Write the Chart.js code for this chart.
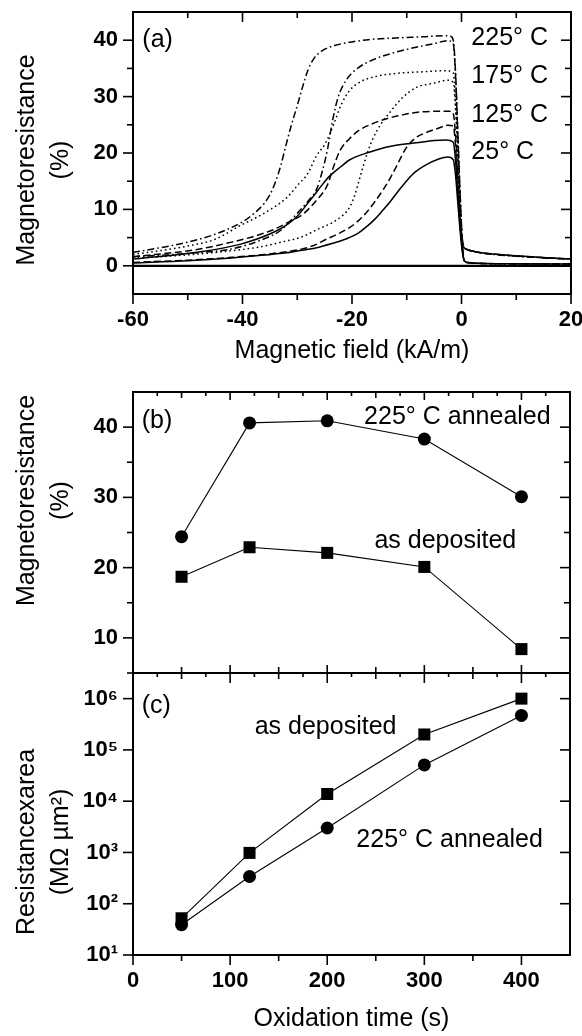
<!DOCTYPE html>
<html lang="en">
<head>
<meta charset="UTF-8">
<title>Magnetoresistance and resistance-area vs oxidation</title>
<script src="https://cdn.jsdelivr.net/npm/chart.js"></script>
<style>
  body { margin: 0; background: #fff; }
  #wrap { position: relative; width: 582px; height: 1036px; }
  canvas { position: absolute; left: 0; }
</style>
</head>
<body>
<div id="wrap">
  <canvas id="cA" width="582" height="372" style="top:0"></canvas>
  <canvas id="cB" width="582" height="310" style="top:372px"></canvas>
  <canvas id="cC" width="582" height="376" style="top:660px"></canvas>
</div>
<script>
// ---- panel (a): MR loops vs field, one pair of branches per anneal temperature ----
var h225Up  = [-60, -55, -50, -45, -40, -38, -36, -35, -34, -33, -32, -31, -30, -29, -28, -27, -25.5, -23, -20, -17, -12, -7, -3, -2, -1.5, -1.1, -0.7, -0.3, 0.1, 0.5, 1, 3, 6, 10, 15, 20];
var mr225Up = [2.4, 3.2, 4.2, 5.6, 7.8, 9.2, 11.1, 12.6, 14.8, 17.8, 21.6, 25.2, 28.4, 31.8, 34.8, 36.7, 38.1, 39.1, 39.7, 40.1, 40.4, 40.6, 40.8, 40.7, 40.0, 34.5, 24.5, 14, 5.5, 3.3, 2.9, 2.4, 2.0, 1.7, 1.4, 1.2];
var h225Lo  = [-60, -50, -42, -36, -33, -30, -28, -26.5, -25.5, -24.5, -23.5, -22.5, -21, -19, -16, -13, -9, -5, -2.5, -1.5, -1.1, -0.7, -0.3, 0.1, 0.5, 1, 3, 8, 20];
var mr225Lo = [1.6, 2.2, 3.0, 4.8, 6.3, 9.3, 11.5, 13.5, 16.5, 20.5, 26, 30, 33, 35, 36.6, 37.6, 38.6, 39.4, 39.9, 39.3, 34, 24, 14, 5.3, 0.9, 0.6, 0.45, 0.35, 0.3];

var h175Up  = [-60, -50, -45, -40.5, -37, -34.4, -32, -30, -28, -26.5, -25, -24, -23, -22, -20.5, -18.5, -16, -12, -7, -3, -1.5, -1.1, -0.7, -0.3, 0.1, 0.5, 1, 3, 8, 14, 20];
var mr175Up = [2.0, 3.5, 4.7, 7.1, 8.8, 10.3, 12, 14.2, 16.5, 19.5, 21.5, 23.5, 26, 28.5, 31, 32.6, 33.5, 34.1, 34.4, 34.6, 34.2, 29.5, 21, 12, 4.8, 3.2, 2.9, 2.4, 1.9, 1.5, 1.2];
var h175Lo  = [-60, -48, -40, -36, -32, -29.5, -26, -23.5, -22, -21, -20.2, -19.5, -18.8, -18, -17.2, -16.2, -14.8, -13, -11, -8.3, -5, -2.5, -1.5, -1.1, -0.7, -0.3, 0.1, 0.5, 1, 3, 8, 20];
var mr175Lo = [1.3, 2.1, 2.9, 3.5, 4.4, 5.0, 6.6, 7.7, 8.7, 9.6, 10.8, 12.5, 14.8, 17.5, 20, 22.5, 25, 27.3, 29.6, 31.6, 32.4, 32.9, 32.5, 28, 20, 11.5, 4.5, 0.9, 0.6, 0.45, 0.35, 0.3];

var h125Up  = [-60, -48.3, -42, -38, -34.4, -31.5, -28.9, -26.5, -24.5, -23.5, -22.2, -20.5, -18.6, -16.5, -14.3, -11, -8.3, -4, -2, -1.5, -1.1, -0.7, -0.3, 0.1, 0.5, 1, 3, 8, 14, 20];
var mr125Up = [1.6, 2.9, 4.2, 5.2, 6.4, 7.8, 9.2, 11.6, 14.3, 17.2, 20.4, 22.5, 24.1, 25.1, 25.9, 26.7, 27.2, 27.4, 27.4, 27.0, 23.3, 16.5, 9.5, 4.2, 3.2, 2.9, 2.4, 1.9, 1.5, 1.2];
var h125Lo  = [-60, -50, -42, -36, -32, -29.5, -27, -24.7, -22.5, -20.4, -18.8, -17.4, -15.8, -14.3, -13, -11.9, -10.1, -8.5, -6.5, -4.5, -2.5, -1.5, -1.1, -0.7, -0.3, 0.1, 0.5, 1, 3, 8, 20];
var mr125Lo = [0.6, 1.0, 1.5, 2.0, 2.5, 2.9, 3.6, 4.7, 5.7, 6.8, 8.0, 9.4, 11.4, 13.5, 15.6, 17.6, 20.9, 22.6, 23.6, 24.3, 24.9, 24.8, 21.4, 15.2, 8.7, 3.4, 0.9, 0.6, 0.45, 0.35, 0.3];

var h25Up   = [-60, -48.3, -40.5, -34.4, -32, -30, -28.3, -27, -25.5, -24.1, -22, -20.4, -17, -14.3, -11, -8.3, -5, -2.8, -1.5, -1.1, -0.7, -0.3, 0.1, 0.5, 1, 3, 8, 14, 20];
var mr25Up  = [1.2, 2.4, 3.8, 5.9, 7.2, 8.8, 10.8, 12.4, 14.3, 15.9, 17.6, 18.8, 20.1, 20.9, 21.5, 21.8, 22.2, 22.3, 21.9, 18.8, 13.3, 7.8, 3.8, 3.2, 2.9, 2.4, 1.9, 1.5, 1.2];
var h25Lo   = [-60, -50, -42, -36, -32, -29.5, -26, -23.5, -21, -19, -17.5, -16, -14.5, -13, -11.5, -10, -8.5, -6.5, -4.5, -2.5, -1.5, -1.1, -0.7, -0.3, 0.1, 0.5, 1, 3, 8, 20];
var mr25Lo  = [0.5, 0.9, 1.4, 1.9, 2.3, 2.7, 3.3, 4.0, 4.8, 5.7, 6.8, 8.1, 9.7, 11.4, 13.3, 15.1, 16.6, 17.9, 18.8, 19.3, 18.8, 16.2, 11.5, 6.7, 2.8, 0.9, 0.6, 0.45, 0.35, 0.3];

var fieldTicks = [-60, -40, -20, 0, 20];
var fieldMinor = [-50, -30, -10, 10];
var mrTicksA = [0, 10, 20, 30, 40];
var mrMinorA = [5, 15, 25, 35];

// ---- panels (b) and (c): vs oxidation time ----
var oxTime = [50, 120, 200, 300, 400];
var mrAnnealed  = [24.4, 40.6, 40.9, 38.3, 30.1];
var mrDeposited = [18.7, 22.9, 22.1, 20.1, 8.4];
var raDeposited = [52, 980, 13800, 200000, 1000000];
var raAnnealed  = [39, 340, 3000, 51000, 470000];

var timeTicks = [0, 100, 200, 300, 400];
var timeMinor = [50, 150, 250, 350];
var timeFine = [25, 75, 125, 175, 225, 275, 325, 375, 425];
var mrTicksB = [10, 20, 30, 40];
var mrMinorB = [5, 15, 25, 35];
var raTicks = [1e1, 1e2, 1e3, 1e4, 1e5, 1e6];
var sup = {1: '¹', 2: '²', 3: '³', 4: '⁴', 5: '⁵', 6: '⁶'};

var FAM = "'Liberation Sans', Arial, sans-serif";
Chart.defaults.font.family = FAM;
Chart.defaults.color = '#000';
var tickFont = {size: 22, weight: 'bold'};
var titleFont = {size: 25};

function pts(xs, ys) {
  return xs.map(function (v, i) { return {x: v, y: ys[i]}; });
}

// box + inward/outward tick marks
var frame = {
  id: 'frame',
  afterDatasetsDraw: function (chart, args, o) {
    var ctx = chart.ctx, a = chart.chartArea, sx = chart.scales.x, sy = chart.scales.y;
    ctx.save();
    ctx.strokeStyle = '#000';
    ctx.lineWidth = 1.6;
    function line(x1, y1, x2, y2) { ctx.beginPath(); ctx.moveTo(x1, y1); ctx.lineTo(x2, y2); ctx.stroke(); }
    (o.x || []).forEach(function (g) {
      g[0].forEach(function (v) {
        var p = sx.getPixelForValue(v);
        if (g[2].indexOf('bo') >= 0) line(p, a.bottom, p, a.bottom + g[1]);
        if (g[2].indexOf('bi') >= 0) line(p, a.bottom, p, a.bottom - g[1]);
        if (g[2].indexOf('ti') >= 0) line(p, a.top, p, a.top + g[1]);
      });
    });
    (o.y || []).forEach(function (g) {
      g[0].forEach(function (v) {
        var p = sy.getPixelForValue(v);
        if (g[2].indexOf('lo') >= 0) line(a.left, p, a.left - g[1], p);
        if (g[2].indexOf('ri') >= 0) line(a.right, p, a.right - g[1], p);
      });
    });
    ctx.lineWidth = 2;
    ctx.strokeRect(a.left, a.top, a.right - a.left, a.bottom - a.top);
    ctx.restore();
  }
};

// text labels placed at data coordinates
var notes = {
  id: 'notes',
  afterDraw: function (chart, args, o) {
    var ctx = chart.ctx, sx = chart.scales.x, sy = chart.scales.y;
    ctx.save();
    ctx.fillStyle = '#000';
    ctx.font = '25px ' + FAM;
    ctx.textAlign = 'left';
    ctx.textBaseline = 'middle';
    (o.items || []).forEach(function (n) {
      ctx.fillText(n.t, sx.getPixelForValue(n.x), sy.getPixelForValue(n.y));
    });
    ctx.restore();
  }
};

// two-line rotated y title
var ytitle = {
  id: 'ytitle',
  afterDraw: function (chart, args, o) {
    var ctx = chart.ctx, a = chart.chartArea;
    var cy = (a.top + a.bottom) / 2 + o.dy;
    ctx.save();
    ctx.fillStyle = '#000';
    ctx.font = '25px ' + FAM;
    ctx.textAlign = 'center';
    ctx.textBaseline = 'middle';
    o.lines.forEach(function (t, i) {
      ctx.save();
      ctx.translate(o.xs[i], cy);
      ctx.rotate(-Math.PI / 2);
      ctx.fillText(t, 0, 0);
      ctx.restore();
    });
    ctx.restore();
  }
};

function fixTicks(list) {
  return function (s) { s.ticks = list.map(function (v) { return {value: v}; }); };
}
function fixWidth(w) {
  return function (s) { s.width = w; s.paddingTop = 0; s.paddingBottom = 0; };
}
function fixHeight(h) {
  return function (s) { s.height = h; s.paddingLeft = 0; s.paddingRight = 0; };
}
var noGrid = {display: false, drawTicks: false};
var noBorder = {display: false};

function loop(xs, ys, dash) {
  return {data: pts(xs, ys), showLine: true, borderColor: '#000', borderWidth: 1.5,
          borderDash: dash, pointRadius: 0, cubicInterpolationMode: 'monotone', fill: false};
}
var DASH = [7, 3.5], DOT = [1.6, 3], DASHDOT = [7, 3, 1.6, 3];

new Chart(document.getElementById('cA'), {
  type: 'scatter',
  data: {
    datasets: [
      {data: pts([-60, 20], [0, 0]), showLine: true, borderColor: '#000', borderWidth: 2.2, pointRadius: 0},
      loop(h25Up, mr25Up, []), loop(h25Lo, mr25Lo, []),
      loop(h125Up, mr125Up, DASH), loop(h125Lo, mr125Lo, DASH),
      loop(h175Up, mr175Up, DOT), loop(h175Lo, mr175Lo, DOT),
      loop(h225Up, mr225Up, DASHDOT), loop(h225Lo, mr225Lo, DASHDOT)
    ]
  },
  options: {
    responsive: false, animation: false,
    layout: {padding: {top: 12, right: 11, left: 0, bottom: 0}},
    plugins: {
      legend: {display: false}, tooltip: {enabled: false},
      frame: {x: [[fieldTicks, 10, 'bo ti'], [fieldMinor, 6, 'bo ti']],
              y: [[mrTicksA, 10, 'lo ri'], [mrMinorA, 6, 'lo ri']]},
      notes: {items: [{t: '(a)', x: -58.3, y: 40.0}, {t: '225° C', x: 1.8, y: 40.4},
                      {t: '175° C', x: 1.8, y: 33.7}, {t: '125° C', x: 1.8, y: 26.8},
                      {t: '25° C', x: 1.8, y: 20.1}]},
      ytitle: {lines: ['Magnetoresistance', '(%)'], xs: [27, 61], dy: 7}
    },
    scales: {
      x: {type: 'linear', min: -60, max: 20, grid: noGrid, border: noBorder,
          afterBuildTicks: fixTicks(fieldTicks), afterFit: fixHeight(78),
          ticks: {padding: 13, font: tickFont, maxRotation: 0, autoSkip: false},
          title: {display: true, text: 'Magnetic field (kA/m)', font: titleFont, padding: {top: 0, bottom: 6}}},
      y: {type: 'linear', min: -5, max: 45, grid: noGrid, border: noBorder,
          afterBuildTicks: fixTicks(mrTicksA), afterFit: fixWidth(133),
          ticks: {padding: 15, font: tickFont, autoSkip: false}}
    }
  },
  plugins: [frame, notes, ytitle]
});

function marks(ys, style, r) {
  return {data: pts(oxTime, ys), showLine: true, borderColor: '#000', borderWidth: 1.1,
          pointStyle: style, pointRadius: r, pointBackgroundColor: '#000', pointBorderColor: '#000',
          pointBorderWidth: 0, tension: 0};
}

new Chart(document.getElementById('cB'), {
  type: 'scatter',
  data: {datasets: [marks(mrAnnealed, 'circle', 6.5), marks(mrDeposited, 'rect', 8.5)]},
  options: {
    responsive: false, animation: false,
    layout: {padding: {top: 20, right: 12, left: 0, bottom: 9}},
    plugins: {
      legend: {display: false}, tooltip: {enabled: false},
      frame: {x: [[timeTicks, 8, 'ti bi'], [timeMinor, 6, 'ti bi'], [timeFine, 4, 'ti']],
              y: [[mrTicksB, 10, 'lo ri'], [mrMinorB, 6, 'lo ri']]},
      notes: {items: [{t: '(b)', x: 9, y: 40.9}, {t: '225° C annealed', x: 238, y: 41.4},
                      {t: 'as deposited', x: 248.6, y: 23.8}]},
      ytitle: {lines: ['Magnetoresistance', '(%)'], xs: [27, 61], dy: -32}
    },
    scales: {
      x: {type: 'linear', min: 0, max: 450, display: false},
      y: {type: 'linear', min: 5, max: 45, grid: noGrid, border: noBorder,
          afterBuildTicks: fixTicks(mrTicksB), afterFit: fixWidth(133),
          ticks: {padding: 15, font: tickFont, autoSkip: false}}
    }
  },
  plugins: [frame, notes, ytitle]
});

new Chart(document.getElementById('cC'), {
  type: 'scatter',
  data: {datasets: [marks(raDeposited, 'rect', 8.5), marks(raAnnealed, 'circle', 6.5)]},
  options: {
    responsive: false, animation: false,
    layout: {padding: {top: 13, right: 12, left: 0, bottom: 0}},
    plugins: {
      legend: {display: false}, tooltip: {enabled: false},
      frame: {x: [[timeTicks, 10, 'bo ti'], [timeMinor, 6, 'bo ti'], [timeFine, 4, 'ti']],
              y: [[raTicks, 10, 'lo ri']]},
      notes: {items: [{t: '(c)', x: 9, y: 7.2e5}, {t: 'as deposited', x: 125.3, y: 2.8e5},
                      {t: '225° C annealed', x: 230, y: 1750}]},
      ytitle: {lines: ['Resistancexarea', '(MΩ µm²)'], xs: [27, 61], dy: 28}
    },
    scales: {
      x: {type: 'linear', min: 0, max: 450, grid: noGrid, border: noBorder,
          afterBuildTicks: fixTicks(timeTicks), afterFit: fixHeight(81),
          ticks: {padding: 13, font: tickFont, maxRotation: 0, autoSkip: false},
          title: {display: true, text: 'Oxidation time (s)', font: titleFont, padding: {top: 0, bottom: 2}}},
      y: {type: 'logarithmic', min: 10, max: 3162278, grid: noGrid, border: noBorder,
          afterBuildTicks: fixTicks(raTicks), afterFit: fixWidth(133),
          ticks: {padding: 15, font: tickFont, autoSkip: false,
                  callback: function (v) { return '10' + sup[Math.round(Math.log10(v))]; }}}
    }
  },
  plugins: [frame, notes, ytitle]
});
</script>
</body>
</html>
